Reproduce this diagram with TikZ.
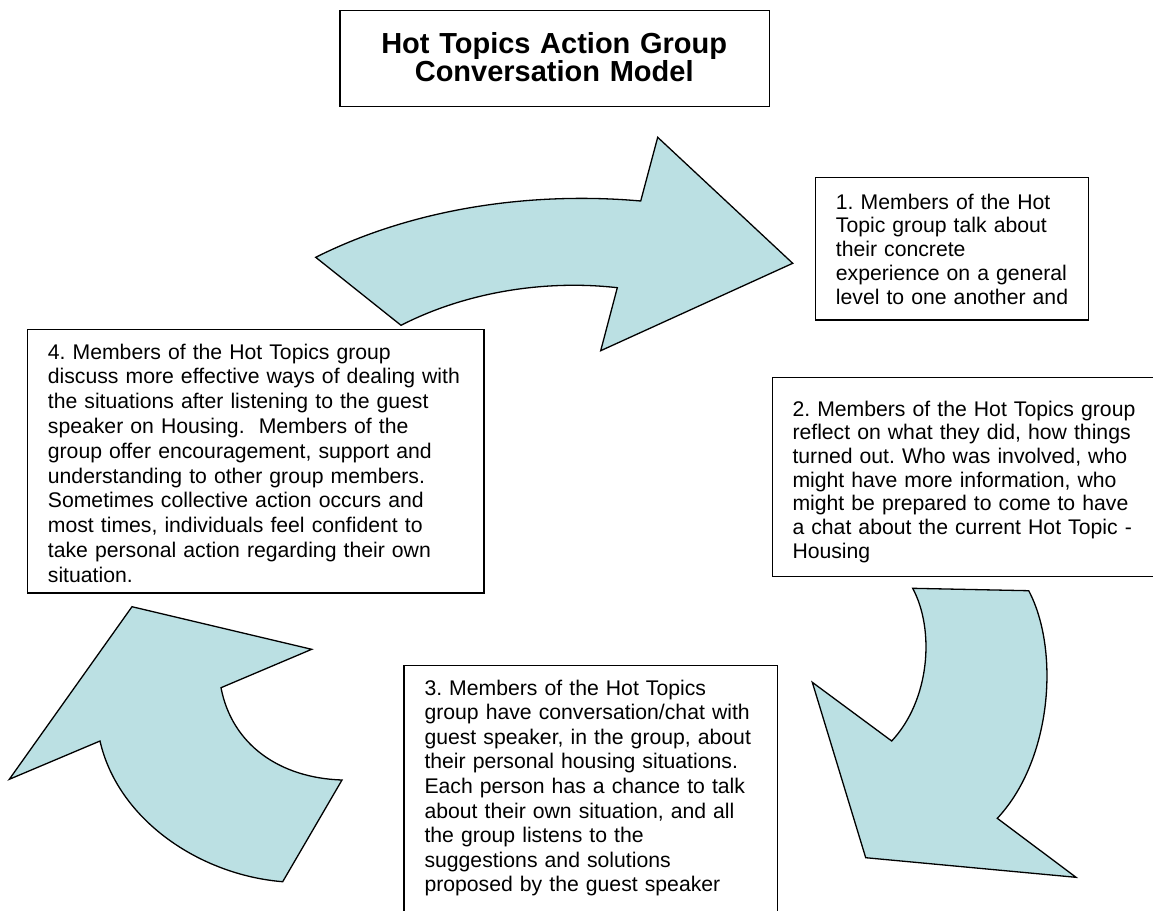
\documentclass[tikz,border=0pt]{standalone}
\usepackage{fontspec}
\setmainfont{Liberation Sans}
\definecolor{arrowfill}{RGB}{187,224,227}
\frenchspacing
\begin{document}
\begin{tikzpicture}[x=1pt,y=-1pt,
  frame/.style={draw=black, line width=1.3pt, fill=white, inner sep=0pt, anchor=north west},
  blockarrow/.style={draw=black, line width=1.3pt, fill=arrowfill, line join=miter},
  bodytext/.style={inner sep=0pt, anchor=base west, align=left, text width=#1},
  bodytext/.default=420pt,
  titletext/.style={inner sep=0pt, anchor=base, align=center, text width=420pt,
    font=\fontsize{29}{28.4}\selectfont\bfseries}]
\useasboundingbox (0,0) rectangle (1153,910);

% block arrows
\draw[blockarrow] (315.7,257.3) .. controls (420,205) and (540,192) .. (640.7,201)
  -- (657.7,137.3) -- (792.7,263.3) -- (600.7,350.7) -- (617.3,287.7)
  .. controls (550,280) and (470,290) .. (401,325.3) -- cycle;
\draw[blockarrow] (912.7,588.3) -- (1028.7,590.7)
  .. controls (1060,650) and (1052,760) .. (997.3,818.3)
  -- (1076,877.3) -- (865.7,857.7) -- (812.3,682.3) -- (891.7,741)
  .. controls (930,700) and (935,630) .. (912.7,588.3) -- cycle;
\draw[blockarrow] (132,606.7) -- (311.7,649.3) -- (221,687.7)
  .. controls (232,745) and (280,778) .. (342,780)
  -- (282.7,881.7) .. controls (200,875) and (118,820) .. (100,741)
  -- (9.3,779.3) -- cycle;

% boxes
\node[frame, minimum width=429.4pt, minimum height=96pt] (title) at (339.3,10) {};
\node[frame, minimum width=272.7pt, minimum height=142.6pt] (box1) at (815,176.7) {};
\node[frame, minimum width=390pt, minimum height=198.8pt] (box2) at (771.7,376.7) {};
\node[frame, minimum width=373.4pt, minimum height=262pt] (box3) at (403.3,665) {};
\node[frame, minimum width=456.6pt, minimum height=263.3pt] (box4) at (26.7,329) {};

% texts
\node[titletext] (titlelabel) at (554.2,53.3) {Hot Topics Action Group\\Conversation Model};
\node[bodytext, font=\fontsize{21.2}{23.75}\selectfont] (text1) at (835.7,209)
  {1. Members of the Hot\\Topic group talk about\\their concrete\\experience on a general\\level to one another and};
\node[bodytext, font=\fontsize{21.2}{23.7}\selectfont] (text2) at (792.3,416)
  {2. Members of the Hot Topics group\\reflect on what they did, how things\\turned out. Who was involved, who\\might have more information, who\\might be prepared to come to have\\a chat about the current Hot Topic -\\Housing};
\node[bodytext, font=\fontsize{21.2}{24.6}\selectfont] (text3) at (424.3,695)
  {3. Members of the Hot Topics\\group have conversation/chat with\\guest speaker, in the group, about\\their personal housing situations.\\Each person has a chance to talk\\about their own situation, and all\\the group listens to the\\suggestions and solutions\\proposed by the guest speaker};
\node[bodytext, font=\fontsize{21.2}{24.8}\selectfont] (text4) at (47.7,359)
  {4. Members of the Hot Topics group\\discuss more effective ways of dealing with\\the situations after listening to the guest\\speaker on Housing.~ Members of the\\group offer encouragement, support and\\understanding to other group members.\\Sometimes collective action occurs and\\most times, individuals feel confident to\\take personal action regarding their own\\situation.};
\end{tikzpicture}
\end{document}
